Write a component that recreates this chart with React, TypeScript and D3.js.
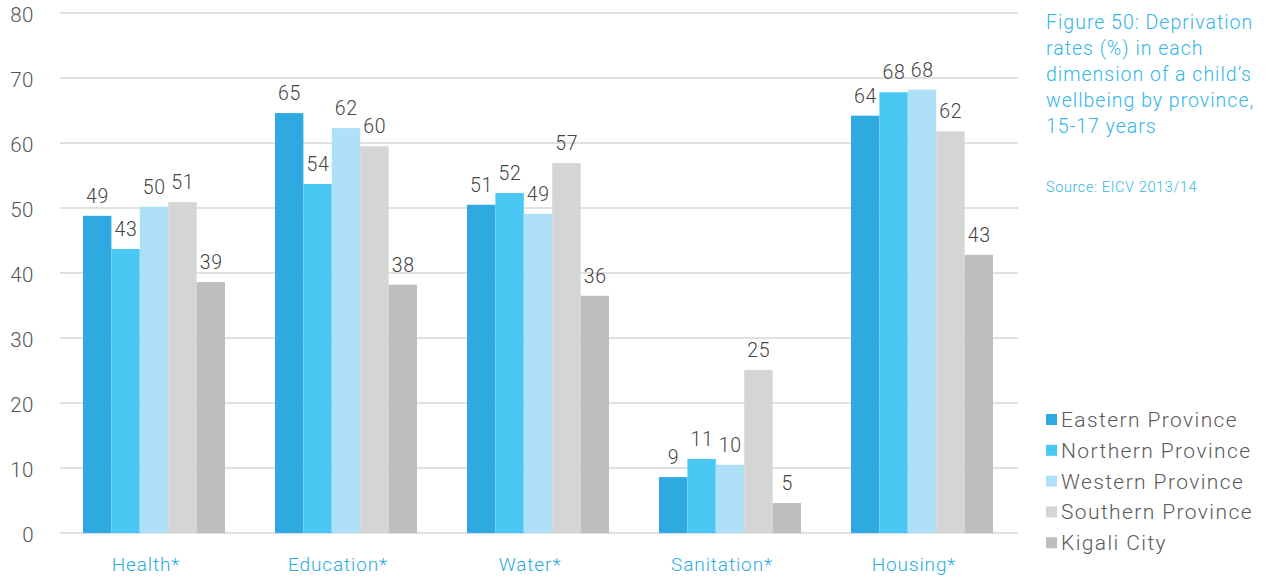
import React, { useEffect, useRef } from 'react';
import * as d3 from 'd3';

const categories = ['Health*', 'Education*', 'Water*', 'Sanitation*', 'Housing*'];
const seriesNames = ['Eastern Province', 'Northern Province', 'Western Province', 'Southern Province', 'Kigali City'];
const eastern = [48.8, 64.6, 50.5, 8.6, 64.2];
const northern = [43.7, 53.7, 52.3, 11.4, 67.8];
const western = [50.2, 62.3, 49.1, 10.5, 68.2];
const southern = [50.9, 59.5, 56.9, 25.1, 61.8];
const kigali = [38.6, 38.2, 36.5, 4.6, 42.8];
// printed labels as shown in the figure
const easternLabels = ['49', '65', '51', '9', '64'];
const northernLabels = ['43', '54', '52', '11', '68'];
const westernLabels = ['50', '62', '49', '10', '68'];
const southernLabels = ['51', '60', '57', '25', '62'];
const kigaliLabels = ['39', '38', '36', '5', '43'];
const yTicks = [0, 10, 20, 30, 40, 50, 60, 70, 80];
const titleLines = ['Figure 50: Deprivation', 'rates (%) in each', 'dimension of a child\u2019s', 'wellbeing by province,', '15-17 years'];
const sourceText = 'Source: EICV 2013/14';

const colors = ['#2EA9E1', '#4AC8F4', '#AEE1F8', '#D4D5D5', '#BDBEC0'];
const font = 'Roboto, "Helvetica Neue", Arial, sans-serif';

const App = () => {
  const svgRef = useRef(null);

  useEffect(() => {
    const width = 1269;
    const height = 577;
    const svg = d3.select(svgRef.current);
    svg.selectAll('*').remove();
    svg.attr('width', width).attr('height', height)
      .attr('font-family', font)
      .attr('font-weight', 300);

    const series = [eastern, northern, western, southern, kigali];
    const labels = [easternLabels, northernLabels, westernLabels, southernLabels, kigaliLabels];

    const x0 = d3.scaleBand().domain(categories).range([58, 1018]).paddingInner(0.26).paddingOuter(0.13);
    const x1 = d3.scaleBand().domain(seriesNames).range([0, x0.bandwidth()]);
    const y = d3.scaleLinear().domain([0, 80]).range([533, 13]);

    // gridlines
    svg.append('g')
      .selectAll('line')
      .data(yTicks)
      .enter().append('line')
      .attr('x1', 60)
      .attr('x2', 1018)
      .attr('y1', d => y(d))
      .attr('y2', d => y(d))
      .attr('stroke', '#E1E1E1')
      .attr('stroke-width', 2);

    // y labels
    svg.append('g')
      .selectAll('text')
      .data(yTicks)
      .enter().append('text')
      .attr('x', 34)
      .attr('y', d => y(d) + 2)
      .attr('dy', '0.36em')
      .attr('text-anchor', 'end')
      .attr('font-size', 20.5)
      .attr('letter-spacing', 0.5)
      .attr('fill', '#555')
      .text(d => d);

    // bars
    const groups = svg.append('g')
      .selectAll('g')
      .data(categories)
      .enter().append('g')
      .attr('transform', d => `translate(${x0(d)},0)`);

    groups.each(function (cat, ci) {
      const g = d3.select(this);
      const vals = series.map((s, si) => ({ name: seriesNames[si], v: s[ci], c: colors[si], label: labels[si][ci] }));
      g.selectAll('rect')
        .data(vals)
        .enter().append('rect')
        .attr('x', d => x1(d.name))
        .attr('y', d => y(d.v))
        .attr('width', x1.bandwidth())
        .attr('height', d => y(0) - y(d.v))
        .attr('fill', d => d.c);
      g.selectAll('text')
        .data(vals)
        .enter().append('text')
        .attr('x', d => x1(d.name) + x1.bandwidth() / 2 + 0.3)
        .attr('y', d => y(d.v) - 13)
        .attr('text-anchor', 'middle')
        .attr('font-size', 19.5)
        .attr('letter-spacing', 0.6)
        .attr('fill', '#444')
        .text(d => d.label);
    });

    // category labels
    svg.append('g')
      .selectAll('text')
      .data(categories)
      .enter().append('text')
      .attr('x', d => x0(d) + x0.bandwidth() / 2 - 8)
      .attr('y', 571)
      .attr('text-anchor', 'middle')
      .attr('font-size', 19)
      .attr('letter-spacing', 0.9)
      .attr('fill', '#29ABE2')
      .text(d => d);

    // title
    const title = svg.append('text')
      .attr('font-size', 19.5)
      .attr('letter-spacing', 1)
      .attr('fill', '#33B5E8');
    titleLines.forEach((t, i) => {
      title.append('tspan').attr('x', 1046).attr('y', 28.5 + i * 26).text(t);
    });

    svg.append('text')
      .attr('x', 1046)
      .attr('y', 192)
      .attr('font-size', 14.5)
      .attr('letter-spacing', 0.6)
      .attr('fill', '#33B5E8')
      .text(sourceText);

    // legend
    const legend = svg.append('g')
      .selectAll('g')
      .data(seriesNames)
      .enter().append('g')
      .attr('transform', (d, i) => `translate(1046,${419.5 + i * 30.8})`);
    legend.append('rect')
      .attr('x', 0)
      .attr('y', -5.5)
      .attr('width', 11)
      .attr('height', 11)
      .attr('fill', (d, i) => colors[i]);
    legend.append('text')
      .attr('x', 15)
      .attr('y', 7.5)
      .attr('font-size', 21)
      .attr('letter-spacing', 1.4)
      .attr('fill', '#5A5A5A')
      .text(d => d);
  }, []);

  return <svg ref={svgRef} style={{ position: 'absolute', left: 0, top: 0 }}></svg>;
};

export default App;
